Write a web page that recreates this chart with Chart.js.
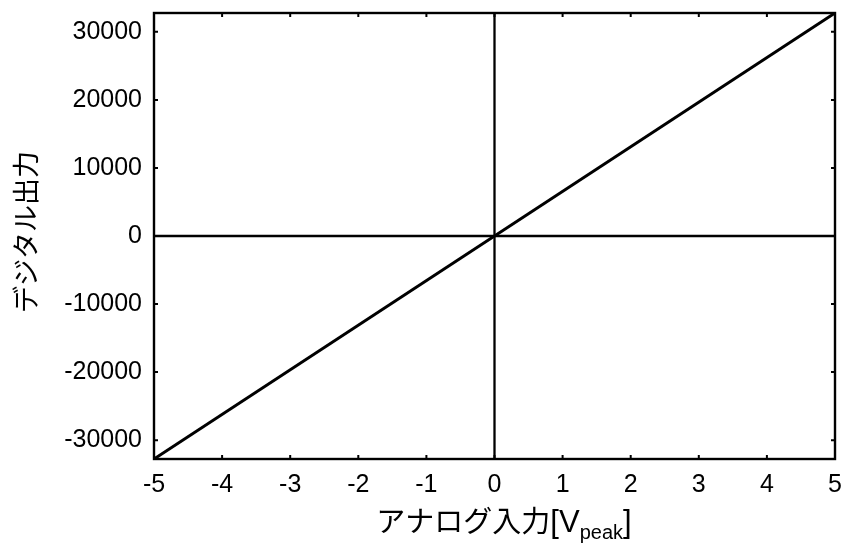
<!DOCTYPE html>
<html>
<head>
<meta charset="utf-8">
<script src="https://cdn.jsdelivr.net/npm/chart.js@4"></script>
<style>
  html, body { margin: 0; padding: 0; background: #fff; }
  #wrap { width: 843px; height: 545px; }
</style>
</head>
<body>
<div id="wrap"><canvas id="c" width="843" height="545"></canvas></div>
<script>
// ---- data ----
const lineX = [-5, 5];
const lineY = [-32768, 32767];
const zeroHX = [-5, 5];
const zeroHY = [0, 0];
const zeroVX = [0, 0];
const zeroVY = [-32768, 32767];
const xTicks = [-5, -4, -3, -2, -1, 0, 1, 2, 3, 4, 5];
const yTicks = [-30000, -20000, -10000, 0, 10000, 20000, 30000];
const xRange = [-5, 5];
const yRange = [-32768, 32767];
const xTitleMain = 'アナログ入力';
const xTitleUnit = '[V';
const xTitleSub = 'peak';
const xTitleEnd = ']';
const yTitle = 'デジタル出力';

const pts = (xs, ys) => xs.map((x, i) => ({ x: x, y: ys[i] }));

const frameTicks = {
  id: 'frameTicks',
  afterDraw(chart) {
    const { ctx, chartArea: a } = chart;
    const xs = chart.scales.x, ys = chart.scales.y;
    ctx.save();
    ctx.strokeStyle = '#000';
    ctx.lineWidth = 2.4;
    ctx.strokeRect(a.left, a.top, a.right - a.left, a.bottom - a.top);
    const L = 4;
    ctx.lineWidth = 2;
    ctx.beginPath();
    xs.ticks.forEach(t => {
      const px = xs.getPixelForValue(t.value);
      ctx.moveTo(px, a.bottom); ctx.lineTo(px, a.bottom - L);
      ctx.moveTo(px, a.top); ctx.lineTo(px, a.top + L);
    });
    ys.ticks.forEach(t => {
      const py = ys.getPixelForValue(t.value);
      ctx.moveTo(a.left, py); ctx.lineTo(a.left + L, py);
      ctx.moveTo(a.right, py); ctx.lineTo(a.right - L, py);
    });
    ctx.stroke();

    // x title with subscript
    ctx.fillStyle = '#000';
    ctx.textBaseline = 'alphabetic';
    const jpFont = '29px "Noto Sans CJK JP", sans-serif';
    const latFont = '31px "Liberation Sans", Arial, sans-serif';
    const subFont = '20px "Liberation Sans", Arial, sans-serif';
    ctx.font = jpFont; const w1 = ctx.measureText(xTitleMain).width;
    ctx.font = latFont; const w2 = ctx.measureText(xTitleUnit).width;
    ctx.font = subFont; const w3 = ctx.measureText(xTitleSub).width;
    ctx.font = latFont; const w4 = ctx.measureText(xTitleEnd).width;
    const total = w1 + w2 + w3 + w4;
    let x0 = 504 - total / 2;
    const base = 532;
    ctx.textAlign = 'left';
    ctx.font = jpFont; ctx.fillText(xTitleMain, x0, base); x0 += w1;
    ctx.font = latFont; ctx.fillText(xTitleUnit, x0, base); x0 += w2;
    ctx.font = subFont; ctx.fillText(xTitleSub, x0, base + 7); x0 += w3;
    ctx.font = latFont; ctx.fillText(xTitleEnd, x0, base);

    // y title rotated
    ctx.save();
    ctx.translate(26, 232);
    ctx.rotate(-Math.PI / 2);
    ctx.textAlign = 'center';
    ctx.textBaseline = 'middle';
    ctx.font = '27px "Noto Sans CJK JP", sans-serif';
    ctx.fillText(yTitle, 0, 0);
    ctx.restore();
    ctx.restore();
  }
};

const tickFont = { family: '"Liberation Sans", Arial, sans-serif', size: 25 };

new Chart(document.getElementById('c'), {
  type: 'scatter',
  data: {
    datasets: [
      { data: pts(zeroHX, zeroHY), showLine: true, borderColor: '#000', borderWidth: 2.3, pointRadius: 0 },
      { data: pts(zeroVX, zeroVY), showLine: true, borderColor: '#000', borderWidth: 2.3, pointRadius: 0 },
      { data: pts(lineX, lineY), showLine: true, borderColor: '#000', borderWidth: 3, pointRadius: 0 }
    ]
  },
  options: {
    responsive: false,
    animation: false,
    devicePixelRatio: 1,
    layout: { padding: { top: 13, right: 8, left: 0, bottom: 0 } },
    plugins: { legend: { display: false }, tooltip: { enabled: false } },
    scales: {
      x: {
        type: 'linear', min: xRange[0], max: xRange[1],
        grid: { display: false, drawTicks: false },
        border: { display: false },
        afterBuildTicks: s => { s.ticks = xTicks.map(v => ({ value: v })); },
        afterFit: s => { s.height = 86; s.paddingLeft = 0; s.paddingRight = 0; },
        ticks: { color: '#000', font: tickFont, padding: 11, maxRotation: 0, autoSkip: false,
                 callback: v => String(v) }
      },
      y: {
        type: 'linear', min: yRange[0], max: yRange[1],
        grid: { display: false, drawTicks: false },
        border: { display: false },
        afterBuildTicks: s => { s.ticks = yTicks.map(v => ({ value: v })); },
        afterFit: s => { s.width = 154; s.paddingTop = 0; s.paddingBottom = 0; },
        ticks: { color: '#000', font: tickFont, padding: 12, autoSkip: false,
                 callback: v => String(v) }
      }
    }
  },
  plugins: [frameTicks]
});
</script>
</body>
</html>
